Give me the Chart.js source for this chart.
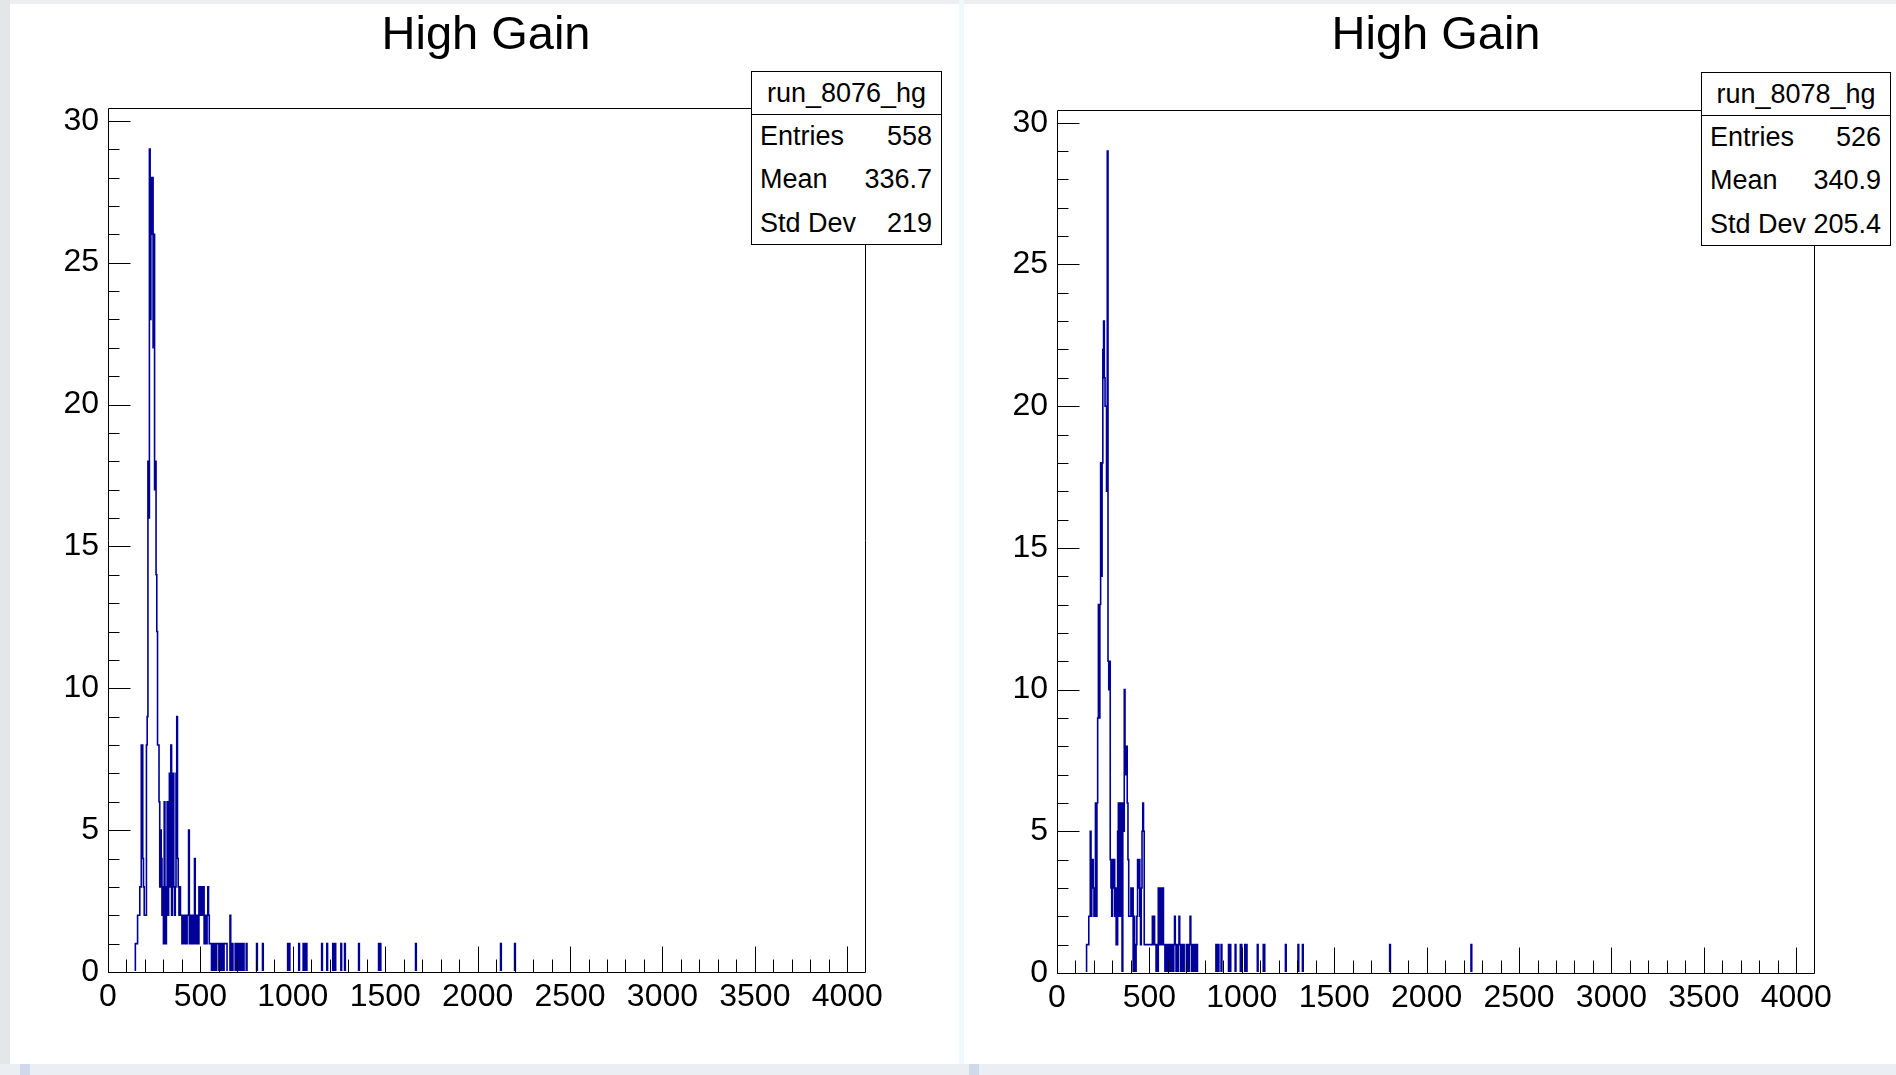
<!DOCTYPE html>
<html>
<head>
<meta charset="utf-8">
<title>High Gain</title>
<script src="https://cdn.jsdelivr.net/npm/chart.js@4.4.1/dist/chart.umd.min.js"></script>
<style>
  html, body { margin: 0; padding: 0; background: #fff; }
  body { width: 1896px; height: 1075px; position: relative; overflow: hidden;
         font-family: "Liberation Sans", Arial, Helvetica, sans-serif; color: #000; }
  .edgeLeft { position: absolute; left: 0; top: 0; width: 10px; height: 1075px; background: #e4e7e8; }
  .edgeTop { position: absolute; left: 0; top: 0; width: 1896px; height: 4px; background: #eceeef; }
  .edgeBottom { position: absolute; left: 0; top: 1064px; width: 1896px; height: 11px; background: #ebeff4; }
  .sep { position: absolute; left: 959px; top: 0; width: 5px; height: 1064px; background: #eef9fa; }
  .mark { position: absolute; top: 1064px; width: 10px; height: 11px; background: #cfd9ea; }
  .pad { position: absolute; top: 0; height: 1062px; }
  .title { position: absolute; top: 9px; width: 400px; text-align: center;
           font-size: 47px; line-height: 47px; white-space: nowrap; }
  .stats { position: absolute; background: #fff; border: 1px solid #000; box-sizing: border-box;
           font-size: 27px; }
  .stats .hdr { height: 42px; line-height: 42px; text-align: center; border-bottom: 1px solid #000; }
  .stats .row { height: 43.3px; line-height: 43.3px; display: flex; justify-content: space-between;
                padding: 0 9px 0 8px; }
</style>
</head>
<body>
<div class="edgeTop"></div>
<div class="edgeLeft"></div>
<div class="sep"></div>
<div class="edgeBottom"></div>
<div class="mark" style="left:20px"></div>
<div class="mark" style="left:969px"></div>

<div class="pad" style="left:10px; width:950px;"><canvas id="hLeft"></canvas></div>
<div class="pad" style="left:964px; width:932px;"><canvas id="hRight"></canvas></div>

<div class="title" style="left:286px;">High Gain</div>
<div class="title" style="left:1236px;">High Gain</div>

<div class="stats" id="statsLeft" style="left:751px; top:71px; width:191px; height:174px;"></div>
<div class="stats" id="statsRight" style="left:1701px; top:72px; width:190px; height:174px;"></div>

<script>
// histogram binning (ADC channels)
const binWidth = 4;
const xMax = 4096;
const yTop = 30.45;
const xTicks = [0, 500, 1000, 1500, 2000, 2500, 3000, 3500, 4000];
const yTicks = [0, 5, 10, 15, 20, 25, 30];

// run_8076_hg : low edge of non-empty bins and their counts
const run8076Bins = [148,152,156,160,164,168,172,176,180,184,188,192,196,200,204,208,212,216,220,224,
  228,232,236,240,244,248,252,256,260,264,268,272,276,280,284,288,292,296,300,304,308,312,316,320,324,
  328,332,336,340,344,348,352,356,360,364,368,372,376,380,384,388,392,396,400,404,408,412,416,420,424,
  428,432,436,440,444,448,452,456,460,464,468,472,476,480,484,488,492,496,500,504,508,512,516,520,524,
  528,532,536,540,544,548,552,556,564,568,576,580,588,592,596,604,608,616,620,628,632,636,640,660,672,
  688,696,704,712,724,732,748,804,836,972,980,1032,1056,1060,1068,1072,1156,1184,1216,1224,1228,1260,
  1280,1356,1464,1472,1664,2124,2200];
const run8076Counts = [1,1,1,2,2,2,3,3,8,8,4,3,2,2,2,8,9,18,16,29,
  23,28,26,28,22,26,17,18,14,12,8,8,6,3,5,4,2,3,1,6,3,1,3,6,2,
  3,7,3,8,2,3,7,3,2,3,7,9,4,3,2,3,2,2,1,2,2,1,2,2,1,
  2,2,5,1,2,1,2,1,2,1,4,1,2,1,2,1,3,2,3,3,2,3,3,1,2,
  1,1,2,3,2,1,1,1,1,1,1,1,1,1,1,1,1,1,1,1,1,1,1,2,1,
  1,1,1,1,1,1,1,1,1,1,1,1,1,1,1,1,1,1,1,1,1,1,
  1,1,1,1,1,1,1];

// run_8078_hg
const run8078Bins = [160,164,168,172,176,180,184,188,192,196,200,204,208,212,216,220,224,228,232,236,
  240,244,248,252,256,260,264,268,272,276,280,284,288,292,296,300,304,308,312,316,320,324,328,332,336,
  340,344,348,356,360,364,368,372,376,380,384,388,392,396,400,404,408,416,420,428,432,436,440,444,448,
  452,456,460,464,468,472,476,480,484,488,492,496,500,504,508,512,516,520,524,528,532,540,548,552,556,
  560,564,568,572,576,580,588,592,600,604,612,616,624,632,636,640,648,656,660,664,672,676,684,700,708,
  716,720,724,732,744,756,860,868,872,888,928,936,964,992,996,1016,1024,1084,1116,1120,1236,1304,1328,
  1800,2240];
const run8078Counts = [1,1,1,2,2,5,2,3,4,3,2,2,6,2,6,9,13,9,13,18,
  14,18,22,23,21,20,20,17,29,11,10,11,4,3,2,4,3,4,2,3,1,1,5,6,2,
  3,6,2,6,5,10,7,8,8,6,4,2,2,2,3,2,3,2,1,1,2,4,3,4,2,
  1,3,5,6,5,1,1,1,1,1,1,1,1,1,1,1,2,1,2,1,1,1,3,1,1,
  3,1,1,3,1,1,1,1,1,1,1,1,1,1,2,1,1,1,2,1,1,1,1,1,1,
  1,2,1,1,1,1,1,1,1,1,1,1,1,1,1,1,1,1,1,1,1,1,1,
  1,1];

const statNames = ['Entries', 'Mean', 'Std Dev'];
const run8076Stats = ['558', '336.7', '219'];
const run8078Stats = ['526', '340.9', '205.4'];

function histPoints(bins, counts) {
  const filled = new Map();
  bins.forEach((b, i) => filled.set(b, counts[i]));
  const pts = [];
  for (let x = 0; x < xMax; x += binWidth) pts.push({ x: x, y: filled.get(x) || 0 });
  pts.push({ x: xMax, y: 0 });
  return pts;
}

function fillStats(id, name, values) {
  const box = document.getElementById(id);
  let html = '<div class="hdr">' + name + '</div>';
  statNames.forEach((n, i) => {
    html += '<div class="row"><span>' + n + '</span><span>' + values[i] + '</span></div>';
  });
  box.innerHTML = html;
}

// ROOT style frame with ticks pointing into the pad
const rootFrame = {
  id: 'rootFrame',
  afterDatasetsDraw(chart) {
    const { ctx, chartArea: a, scales } = chart;
    ctx.save();
    ctx.strokeStyle = '#000';
    ctx.lineWidth = 1;
    const l = Math.round(a.left) + 0.5, r = Math.round(a.right) + 0.5;
    const t = Math.round(a.top) + 0.5, b = Math.round(a.bottom) + 0.5;
    ctx.beginPath();
    ctx.rect(l, t, r - l, b - t);
    for (let v = 0; v <= 30; v++) {
      const y = Math.round(scales.y.getPixelForValue(v)) + 0.5;
      ctx.moveTo(l, y);
      ctx.lineTo(l + (v % 5 === 0 ? 22 : 11), y);
    }
    for (let v = 0; v <= 4000; v += 100) {
      const x = Math.round(scales.x.getPixelForValue(v)) + 0.5;
      ctx.moveTo(x, b);
      ctx.lineTo(x, b - (v % 500 === 0 ? 26 : 13));
    }
    ctx.stroke();
    ctx.restore();
  }
};

function makeHist(canvasId, bins, counts, lay) {
  new Chart(document.getElementById(canvasId), {
    type: 'line',
    data: {
      datasets: [{
        data: histPoints(bins, counts),
        borderColor: '#000099',
        borderWidth: 1.6,
        pointRadius: 0,
        stepped: 'before',
        fill: false,
        tension: 0,
        clip: { left: 0, top: 0, right: 0, bottom: -1 }
      }]
    },
    options: {
      responsive: true,
      maintainAspectRatio: false,
      animation: false,
      layout: { padding: { left: 0, top: lay.top, right: lay.right, bottom: lay.bottom } },
      plugins: { legend: { display: false }, tooltip: { enabled: false }, title: { display: false } },
      scales: {
        x: {
          type: 'linear',
          min: 0,
          max: xMax,
          grid: { display: false, drawTicks: false },
          border: { display: false },
          afterBuildTicks: (s) => { s.ticks = xTicks.map(v => ({ value: v })); },
          afterFit: (s) => { s.height = 60; },
          ticks: {
            padding: 6,
            maxRotation: 0,
            autoSkip: false,
            color: '#000',
            callback: (v) => String(v),
            font: { family: '"Liberation Sans", Arial, sans-serif', size: 32 }
          }
        },
        y: {
          min: 0,
          max: yTop,
          grid: { display: false, drawTicks: false },
          border: { display: false },
          afterBuildTicks: (s) => { s.ticks = yTicks.map(v => ({ value: v })); },
          afterFit: (s) => { s.width = lay.yWidth; },
          ticks: {
            padding: 9,
            color: '#000',
            callback: (v) => String(v),
            font: { family: '"Liberation Sans", Arial, sans-serif', size: 32 }
          }
        }
      }
    },
    plugins: [rootFrame]
  });
}

makeHist('hLeft', run8076Bins, run8076Counts, { top: 108, right: 95, bottom: 30, yWidth: 98 });
makeHist('hRight', run8078Bins, run8078Counts, { top: 110, right: 82, bottom: 29, yWidth: 93 });

fillStats('statsLeft', 'run_8076_hg', run8076Stats);
fillStats('statsRight', 'run_8078_hg', run8078Stats);
</script>
</body>
</html>
